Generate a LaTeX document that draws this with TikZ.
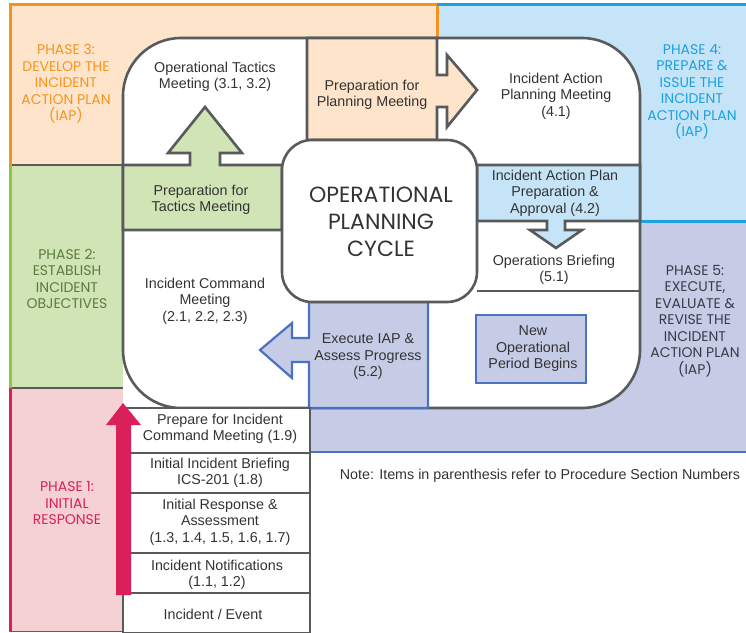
\documentclass[tikz,border=0pt]{standalone}
\usepackage{fontspec}
\setmainfont{Liberation Sans}
\newfontfamily\gothic{Poppins}
\usepackage{xcolor}
\definecolor{peach}{HTML}{FDE4CB}
\definecolor{orangeline}{HTML}{F7941D}
\definecolor{skyfill}{HTML}{C6E4F7}
\definecolor{skyline}{HTML}{1BA1E2}
\definecolor{leaf}{HTML}{D0E4B5}
\definecolor{leafline}{HTML}{8DC63F}
\definecolor{leaftext}{HTML}{5B7D3C}
\definecolor{rose}{HTML}{F5D1D3}
\definecolor{roseline}{HTML}{DB1F5B}
\definecolor{lilac}{HTML}{C6CCE6}
\definecolor{lilacline}{HTML}{4A72C0}
\definecolor{frame}{HTML}{595A5C}
\definecolor{ink}{HTML}{333333}
\definecolor{duskink}{HTML}{3A3B48}

\begin{document}
\begin{tikzpicture}[x=1pt,y=-1pt,
  wall/.style={draw=frame,line width=2.6pt},
  bluewall/.style={draw=lilacline,line width=2.2pt},
  txt/.style={font=\fontsize{14.3}{16.5}\selectfont,text=ink,align=center,inner sep=0},
  phase/.style={font=\gothic\fontsize{14}{16.5}\selectfont,align=center,inner sep=0}]
\useasboundingbox (0,0) rectangle (746,632);
\fill[peach] (10,4) rectangle (437,165);
\fill[skyfill] (437,4) rectangle (746,221);
\fill[leaf] (10,165) rectangle (123,388);
\fill[rose] (10,388) rectangle (123,632);
\fill[lilac] (310,221) rectangle (746,452);
\draw[orangeline,line width=3pt] (10,165) -- (10,4) -- (437,4) -- (437,38);
\draw[skyline,line width=3pt] (437,4) -- (746,4);
\draw[skyline,line width=3pt] (640,221) -- (746,221);
\draw[leafline,line width=3pt] (10,165) -- (10,388);
\draw[roseline,line width=3pt] (10,388) -- (10,632);
\draw[roseline,line width=1pt] (10,631.5) -- (123,631.5);
\draw[lilacline,line width=2.4pt] (310,452) -- (746,452);
\draw[wall] (11.5,165) -- (123,165);
\draw[wall] (11.5,388) -- (123,388);
\draw[wall,fill=white,rounded corners=58pt] (123,38) rectangle (640,408);
\draw[wall,fill=peach] (307,38) -- (437,38) -- (437,75) -- (447,75) -- (447,55) -- (477,90) -- (447,127) -- (447,107) -- (437,107) -- (437,140) -- (307,140) -- cycle;
\draw[wall,fill=leaf] (123,165) -- (190,165) -- (190,153) -- (168,153) -- (205,107) -- (242,153) -- (220,153) -- (220,165) -- (282,165) -- (282,230) -- (123,230) -- cycle;
\draw[wall,fill=skyfill] (477,165) -- (640,165) -- (640,221) -- (565,221) -- (565,230) -- (582,230) -- (556,248) -- (530,230) -- (547,230) -- (547,221) -- (477,221) -- cycle;
\draw[frame,line width=1.5pt] (477,291) -- (640,291);
\draw[bluewall,fill=lilac] (309,302) -- (428,302) -- (428,408) -- (309,408) -- (309,362) -- (292,362) -- (292,378) -- (260,350) -- (292,323) -- (292,338) -- (309,338) -- cycle;
\draw[lilacline,line width=1.8pt,fill=lilac] (476,315) rectangle (586,383);
\draw[wall,fill=white,rounded corners=30pt] (282,140) rectangle (477,302);
\draw[wall,fill=white] (123,408) rectangle (310,453);
\draw[wall,fill=white] (123,453) rectangle (310,493);
\draw[wall,fill=white] (123,493) rectangle (310,553);
\draw[wall,fill=white] (123,553) rectangle (310,593);
\draw[wall,fill=white] (123,593) rectangle (310,633);
\fill[roseline] (116,595) -- (116,425) -- (106,425) -- (123,403) -- (141,425) -- (131,425) -- (131,595) -- cycle;
\node[txt] (tactics) at (215,77) {Operational Tactics\\Meeting (3.1, 3.2)};
\node[txt] (preptactics) at (201,200) {Preparation for\\Tactics Meeting};
\node[txt] (prepplanning) at (372,95) {Preparation for\\Planning Meeting};
\node[txt] (planmeeting) at (556,96) {Incident Action\\Planning Meeting\\(4.1)};
\node[txt] (iapprep) at (555,193) {Incident Action Plan\\Preparation \&\\Approval (4.2)};
\node[txt] (opsbrief) at (554,270) {Operations Briefing\\(5.1)};
\node[font=\gothic\fontsize{22}{27}\selectfont,text=ink,align=center,inner sep=0] (title) at (381,222) {OPERATIONAL\\PLANNING\\CYCLE};
\node[txt] (incmeeting) at (205,301) {Incident Command\\Meeting\\(2.1, 2.2, 2.3)};
\node[txt] (execute) at (368,357) {Execute IAP \&\\Assess Progress\\(5.2)};
\node[txt] (newperiod) at (533,349) {New\\Operational\\Period Begins};
\node[txt] (prepcmd) at (220,429) {Prepare for Incident\\Command Meeting (1.9)};
\node[txt] (briefing) at (220,473) {Initial Incident Briefing\\ICS-201 (1.8)};
\node[txt] (response) at (220,522) {Initial Response \&\\Assessment\\(1.3, 1.4, 1.5, 1.6, 1.7)};
\node[txt] (notify) at (217,575) {Incident Notifications\\(1.1, 1.2)};
\node[txt] (event) at (213,614) {Incident / Event};
\node[txt] (note) at (540,476) {Note: Items in parenthesis refer to Procedure Section Numbers};
\node[phase,text=orangeline] (phasethree) at (66,84) {PHASE 3:\\DEVELOP THE\\INCIDENT\\ACTION PLAN\\(IAP)};
\node[phase,text=skyline] (phasefour) at (692,92) {PHASE 4:\\PREPARE \&\\ISSUE THE\\INCIDENT\\ACTION PLAN\\(IAP)};
\node[phase,text=leaftext] (phasetwo) at (67,279) {PHASE 2:\\ESTABLISH\\INCIDENT\\OBJECTIVES};
\node[phase,text=roseline] (phaseone) at (67,503) {PHASE 1:\\INITIAL\\RESPONSE};
\node[phase,text=duskink] (phasefive) at (695,321) {PHASE 5:\\EXECUTE,\\EVALUATE \&\\REVISE THE\\INCIDENT\\ACTION PLAN\\(IAP)};
\end{tikzpicture}
\end{document}
